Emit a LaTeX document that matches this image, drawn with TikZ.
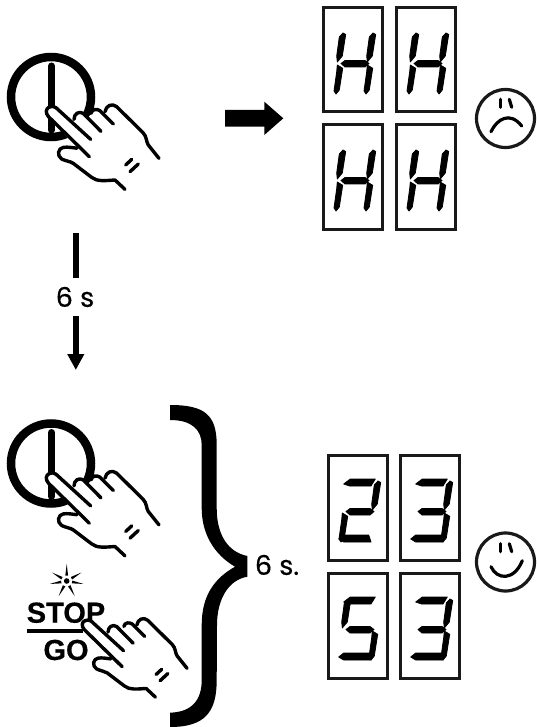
\documentclass[tikz,border=0pt]{standalone}
\usepackage{fontspec}
\newfontfamily\lblfont[FakeBold=0.5]{Poppins}
\newfontfamily\stopfont[FakeBold=0.5]{Liberation Sans}
\usetikzlibrary{arrows.meta}
\tikzset{
  lbl/.style={font=\lblfont\fontsize{27}{27}\selectfont, inner sep=0pt},
  stoptxt/.style={font=\stopfont\bfseries\fontsize{29}{29}\selectfont, inner sep=0pt},
  handline/.style={line width=3.4pt, line cap=round, line join=round},
  facelin/.style={line width=3.2pt, line cap=round},
  pics/hand/.style={code={
    \fill[white] (-3.3,-0.7) -- (0.7,-4) -- (6,-3.3) -- (20,9) -- (26.7,2) -- (33.3,2.7) -- (38,7) -- (45,-1.3) -- (50,0) -- (55,1) -- (60,-5.7) -- (66.7,-4) -- (95,24.3) -- (98.3,34.3) -- (109,47.7) -- (75,78.7) -- (65,69.3) -- (50,70) -- (41.7,66.7) -- (23.3,52.7) -- (11.7,48.3) -- (8.3,42.7) -- (13.3,36.7) -- (26,36) -- (-2.7,4.3) -- cycle;
    \draw[handline] (39.3,46) -- (-1.5,6) .. controls (-5,2) and (-4,-2) .. (-1,-3.5) .. controls (1.5,-5) and (4,-4.5) .. (6,-3) -- (40.7,28.7);
    \draw[handline] (24,8.7) .. controls (24,3) and (29,0) .. (33.3,2.7) -- (51,20.7);
    \draw[handline] (41,2.7) .. controls (42,-2) and (47,-2) .. (50,0) -- (63.3,13.3);
    \draw[handline] (55,1) .. controls (56,-5) and (62,-8) .. (66.7,-4) -- (93,22) .. controls (97,26) and (96,31) .. (98.3,34.3) -- (109,47.7);
    \draw[handline] (27,37.5) .. controls (22,37) and (18,36) .. (13.3,36.7) .. controls (8,37.5) and (6.5,45) .. (11.7,48.3) .. controls (16,50.5) and (20,50.5) .. (23.3,52.7) -- (41.7,66.7) .. controls (47,71) and (55,70) .. (65,69.3) -- (75,78.7);
    \draw[handline] (75.7,54.3) -- (81.7,48.7);
    \draw[handline] (80,61) -- (88.3,53.3);
  }},
  pics/powerbtn/.style={code={
    \draw[line width=8.5pt] (0,0) circle (40);
    \draw[line width=7pt, line cap=round] (0.5,-31) -- (0.5,33);
    \pic at (-1,13.7) {hand};
  }}
}
\newcommand{\sega}{(16.7,30) -- (23.3,25) -- (48.3,25) -- (44,32) -- (22.7,32) -- cycle}
\newcommand{\segb}{(51,27) -- (53.7,28.5) -- (50.3,50) -- (45.3,56) -- (44.7,50) -- (47.3,31) -- cycle}
\newcommand{\segc}{(45.3,59) -- (50.7,62.3) -- (47.3,84) -- (44,88) -- (42,85) -- (44.7,65.7) -- cycle}
\newcommand{\segd}{(11.7,85) -- (16.7,81) -- (41.7,81) -- (44,88) -- (16.7,88) -- cycle}
\newcommand{\sege}{(15.3,59) -- (20.7,62.3) -- (17.3,84) -- (14,88) -- (12,85) -- (14.7,65.7) -- cycle}
\newcommand{\segf}{(21,27) -- (23.7,28.5) -- (20.3,50) -- (15.3,56) -- (14.7,50) -- (17.3,31) -- cycle}
\newcommand{\segg}{(19,57.5) -- (23,54.5) -- (43,54.5) -- (47,57.5) -- (43,61) -- (23,61) -- cycle}
\newcommand{\ledbox}[3]{
  \begin{scope}[shift={(#1,#2)}]
    \draw[line width=3pt, black!90] (1.4,1.4) rectangle (60.6,106);
    \foreach \s in {#3} {\filldraw[line width=0.8pt, line join=round] \csname seg\s\endcsname;}
  \end{scope}
}
\begin{document}
\begin{tikzpicture}[x=1pt,y=-1pt]
  \useasboundingbox (0,0) rectangle (536,727);

  \pic at (51,97) {powerbtn};
  \pic at (51,463.5) {powerbtn};

  \fill (225,110) -- (264.3,110) -- (264.3,101.7) -- (283.3,118.3) -- (264.3,135) -- (264.3,126.7) -- (225,126.7) -- cycle;

  \ledbox{322}{6}{f,b,g,e,c}
  \ledbox{395}{6}{f,b,g,e,c}
  \ledbox{322}{123}{f,b,g,e,c}
  \ledbox{395}{123}{f,b,g,e,c}

  \draw[facelin, black!90] (505.5,118.5) circle (29);
  \draw[facelin] (500.7,99.3) -- (500.7,107.3);
  \draw[facelin] (509.3,99.3) -- (511.7,107.3);
  \draw[facelin] (491,131.7) .. controls (497,119) and (510,111) .. (521.7,126);

  \node[lbl, minimum height=38pt] (sixlbl) at (75,297) {6 s};
  \coordinate (sixtop) at (75.8,233.3);
  \coordinate (sixend) at (75.8,370);
  \draw[line width=5.5pt] (sixtop) -- (sixtop |- sixlbl.north);
  \draw[line width=5.5pt, -{Triangle[length=16pt,width=16pt]}] (sixend |- sixlbl.south) -- (sixend);

  \ledbox{327}{454}{a,b,g,e,d}
  \ledbox{399}{454}{a,b,g,c,d}
  \ledbox{327}{572}{a,f,g,c,d}
  \ledbox{399}{572}{a,b,g,c,d}

  \draw[facelin, black!90] (505.5,562) circle (29);
  \draw[facelin] (500.7,543.7) -- (500.7,551.7);
  \draw[facelin] (509.3,543.7) -- (511.7,551.7);
  \draw[facelin] (491,566.7) .. controls (497,580) and (514,581) .. (522.3,560.7);

  \fill (170,405) .. controls (205,405) and (216.7,415) .. (216.7,445) -- (216.7,508) .. controls (216.7,535) and (228,552) .. (247.3,556) -- (247.3,576.7) .. controls (228,580) and (217,600) .. (217,625) -- (216.7,680) .. controls (216.7,712) and (205,727) .. (170,727) -- (170,712.7) .. controls (192,712) and (201.7,700) .. (201.7,680) -- (201.7,625) .. controls (201.7,595) and (215,578) .. (235,566.7) .. controls (215,555) and (201.7,535) .. (201.7,508) -- (201.7,445) .. controls (201.7,430) and (192,420) .. (170,420) -- cycle;
  \node[lbl] (bracelbl) at (277,565) {6 s.};

  \foreach \a in {-118,-62,-10,30,90,150,190} {
    \fill[shift={(66.7,581)}, rotate=\a] (5.5,-1.4) -- (17,0) -- (5.5,1.4) -- cycle;
  }
  \fill (66.7,581) circle (2.8);
  \node[stoptxt] (stoptxt) at (66,612.7) {STOP};
  \fill (26.7,629) rectangle (83,632.5);
  \node[stoptxt] (gotxt) at (66,650) {GO};
  \pic[scale=0.93] at (85.7,624) {hand};
\end{tikzpicture}
\end{document}
